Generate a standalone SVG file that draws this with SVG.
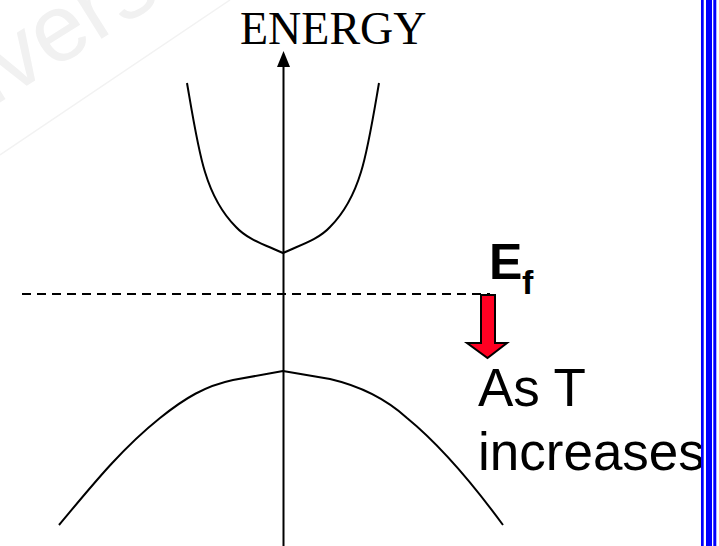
<svg xmlns="http://www.w3.org/2000/svg" width="719" height="546" viewBox="0 0 719 546">
<style>
.curve{fill:none;stroke:#000;stroke-width:2;stroke-linejoin:round}
.sans{font-family:"Liberation Sans",Arial,sans-serif;fill:#000}
.bar{fill:#0000ff}
</style>
<rect width="719" height="546" fill="#fff"/>
<g id="watermark">
<line x1="0" y1="155" x2="230" y2="0" stroke="#f2f2f2" stroke-width="1.5"/>
<text x="-110" y="171" transform="rotate(-32 -110 171)" font-family="Liberation Sans,Arial,sans-serif" font-size="95" fill="#f1f1f1">University</text>
</g>
<g id="axis">
<line x1="283.5" y1="546" x2="283.5" y2="66" stroke="#000" stroke-width="2"/>
<path d="M283.5,51 L290,67 L277,67 Z" fill="#000"/>
<text x="240" y="44" font-family="Liberation Serif,'Times New Roman',serif" font-size="46" fill="#000">ENERGY</text>
</g>
<g id="conduction-band">
<path class="curve" d="M187,83 C193,118 198,150 205,172 C212,195 222,213 236,227 C248,240 266,245 283,253 C300,245 318,240 330,227 C344,213 354,195 361,172 C368,150 373,118 379,83"/>
</g>
<g id="fermi-level">
<line x1="22" y1="294" x2="490" y2="294" stroke="#000" stroke-width="2" stroke-dasharray="9,6"/>
<text class="sans" x="489" y="279" font-size="50" font-weight="bold">E</text>
<text class="sans" x="522" y="294" font-size="34" font-weight="bold">f</text>
</g>
<g id="valence-band">
<path class="curve" d="M59,525 C90,488 120,450 160,418 C185,398 205,386 233,380 L283,371 L330,379 C360,386 385,398 407,418 C440,445 470,480 503,525"/>
</g>
<g id="shift-arrow">
<path d="M481,295 L495,295 L495,343 L507,343 L487.5,358 L467,343 L481,343 Z" fill="#ff0022" stroke="#000" stroke-width="2" stroke-linejoin="miter"/>
</g>
<g id="label">
<text class="sans" x="478" y="406" font-size="53">As T</text>
<text class="sans" x="478" y="470" font-size="53">increases</text>
</g>
<g id="border">
<rect class="bar" x="701" y="0" width="2.7" height="546"/>
<rect class="bar" x="706" y="0" width="6" height="546"/>
<rect class="bar" x="713.3" y="0" width="3" height="546"/>
</g>
</svg>
